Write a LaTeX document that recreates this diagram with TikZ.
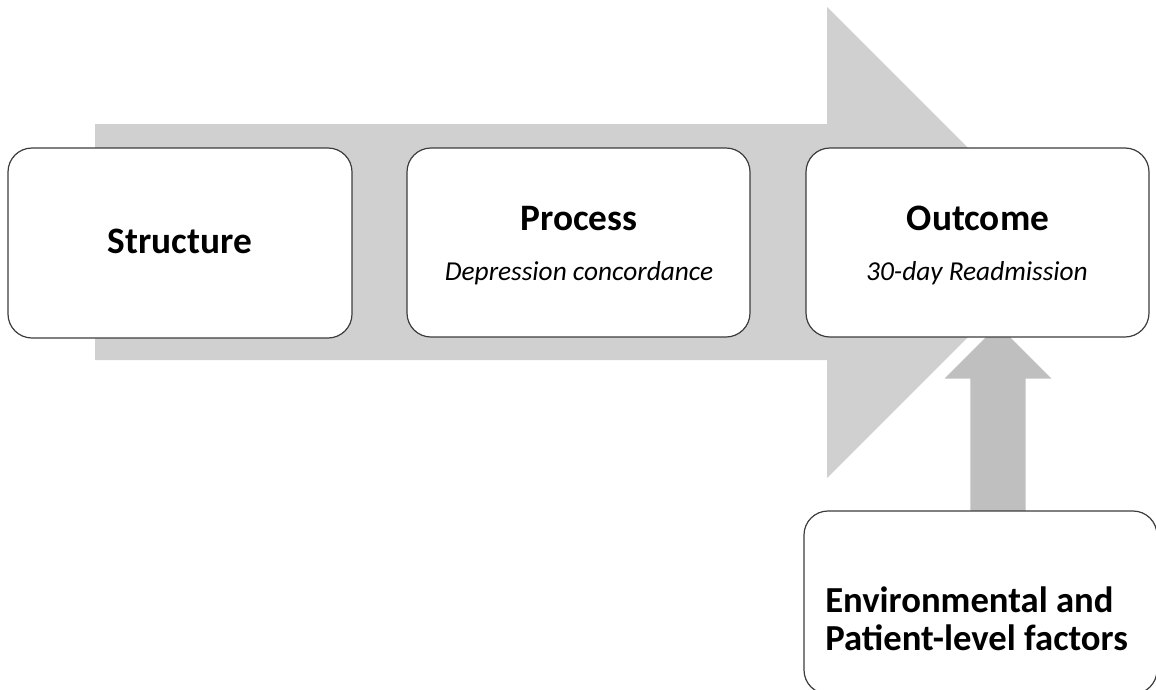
\documentclass[tikz,border=0pt]{standalone}
\usepackage{fontspec}
\setmainfont{Carlito}
\usepackage{xcolor}
\usepackage{tikz}
\usetikzlibrary{calc,positioning}
\definecolor{flow}{HTML}{D0D0D0}
\definecolor{push}{HTML}{BFBFBF}
\definecolor{edge}{HTML}{3C3C3C}
\tikzset{
  box/.style={draw=edge, fill=white, line width=0.9pt, rounded corners=18pt, inner sep=0pt},
  band/.style={fill=flow},
  lift/.style={fill=push, draw=white, line width=2pt, line join=miter},
  ttl/.style={font=\fontsize{28}{34}\selectfont\bfseries, anchor=base, inner sep=0pt},
  sub/.style={font=\fontsize{20.5}{25}\selectfont\itshape, anchor=base, inner sep=0pt},
  side/.style={font=\fontsize{27.5}{33}\selectfont\bfseries, anchor=base west, inner sep=0pt},
}

\begin{document}
\begin{tikzpicture}[x=0.75pt,y=-0.75pt]
  \clip (0,0) rectangle (1156,689);
  \fill[white] (0,0) rectangle (1156,689);

  % main flow arrow
  \fill[band] (95,124) -- (827,124) -- (827,7) -- (1062.5,242.5)
    -- (827,478) -- (827,360) -- (95,360) -- cycle;
  % arrow from the factors box
  \filldraw[lift] (969,511) -- (969,380) -- (941,380) -- (998,323)
    -- (1055,380) -- (1027,380) -- (1027,511);

  \node[box, minimum width=258pt, minimum height=142.5pt] (struct) at (180,243) {};
  \node[box, minimum width=257.25pt, minimum height=141.75pt] (proc) at (578.5,242.5) {};
  \node[box, minimum width=257.25pt, minimum height=141.75pt] (outc) at (977.5,242.5) {};
  \node[box, minimum width=264.75pt, minimum height=137.25pt] (env) at (980.5,602.5) {};

  \node[ttl] (structt) at (180,253) {Structure};
  \node[ttl] (proct) at (579,230) {Process};
  \node[sub] (procs) at (579,280) {Depression concordance};
  \node[ttl] (outct) at (978,230) {Outcome};
  \node[sub] (outcs) at (977,280) {30-day Readmission};
  \node[side] (envA) at (825,612) {Environmental and};
  \node[side] (envB) at (825,650) {Patient-level factors};
\end{tikzpicture}
\end{document}
